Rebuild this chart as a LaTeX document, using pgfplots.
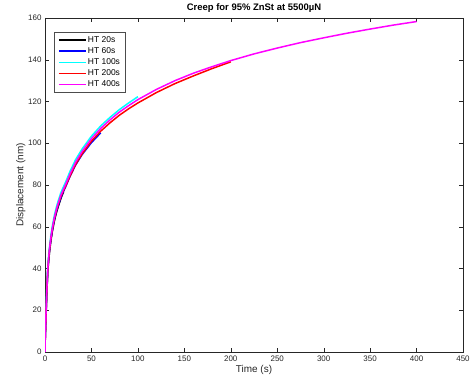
\documentclass[border=0pt]{standalone}
\usepackage{pgfplots}
\pgfplotsset{compat=1.18}
\usepackage{fontspec}
\setmainfont{Liberation Sans}
\definecolor{mblue}{rgb}{0,0,1}
\definecolor{mcyan}{rgb}{0,1,1}
\definecolor{mred}{rgb}{1,0,0}
\definecolor{mmag}{rgb}{1,0,1}
\begin{document}
\begin{tikzpicture}
\begin{axis}[
  scale only axis, width=418bp, height=334bp,
  xmin=0, xmax=450, ymin=0, ymax=160,
  xtick={0,50,...,450}, ytick={0,20,...,160},
  tick align=inside, tick pos=both,
  major tick length=4bp,
  axis line style={draw=black!85},
  tick style={black!85},
  ticklabel style={font=\fontsize{8}{9}\selectfont, text=black!85},
  /pgf/number format/assume math mode=true,
  xlabel={Time (s)}, ylabel={Displacement (nm)},
  label style={font=\fontsize{10}{12}\selectfont, text=black!85},
  xlabel style={yshift=3bp},
  ylabel style={yshift=-4bp},
  title={\bfseries Creep for 95\% ZnSt at 5500µN},
  title style={font=\fontsize{9.5}{11}\selectfont, yshift=-4bp},
  legend style={at={(rel axis cs:0.021,0.957)}, anchor=north west,
    font=\fontsize{8.5}{9}\selectfont, draw=black!70, row sep=0bp,
    inner xsep=4bp, inner ysep=2bp,
    nodes={inner sep=1.4bp, text height=6.3bp, text depth=2bp}},
  legend cell align=left,
  legend image code/.code={\draw[#1, line width=1.6pt] (0bp,0bp) -- (27bp,0bp);},
  every axis plot/.append style={line width=1.5pt, line join=round},
]
\addplot[black] coordinates {(0,0)(0.3,6.5)(0.7,11.5)(1.2,18.5)(2,28.5)(3,38.5)(4,44)(5,48.5)(6.5,53.8)(8,58)(10,62.6)(12,66.3)(14,69.3)(17,73.4)(20,76.8)};
\addlegendentry{HT 20s}
\addplot[mblue] coordinates {(0,0)(0.3,7.5)(0.7,12.5)(1.2,19.5)(2,29.3)(3,39.2)(4,44.7)(5,49.2)(6.5,54.4)(8,58.6)(10,63.1)(12,66.8)(14,69.8)(17,73.8)(19.5,76.5)(22,78.9)(27,84.2)(33,89.6)(40,94.6)(50,100.3)(60,105)};
\addlegendentry{HT 60s}
\addplot[mcyan] coordinates {(0,0)(0.3,9)(0.7,14.5)(1.2,21.5)(2,31.5)(3,41.2)(4,46.8)(5,51.2)(6.5,56.5)(8,60.7)(10,65.3)(12,69)(14,72.1)(17,76.2)(19.5,78.8)(22,81.2)(27,86.6)(33,92.2)(40,97.3)(50,103.4)(60,108.3)(70,112.4)(80,116.1)(90,119.3)(100,122.3)};
\addlegendentry{HT 100s}
\addplot[mred] coordinates {(0,0)(0.3,7.5)(0.7,12.5)(1.2,19.5)(2,29.5)(3,39.5)(4,45)(5,49.5)(6.5,54.8)(8,59)(10,63.6)(12,67.3)(14,70.4)(17,74.4)(19.5,77)(22,79.3)(27,84.4)(33,89.9)(40,95)(50,101)(60,105.8)(70,109.8)(80,113.4)(90,116.5)(100,119.3)(120,124.3)(140,128.6)(160,132.3)(180,135.8)(200,139)};
\addlegendentry{HT 200s}
\addplot[mmag] coordinates {(0,0)(0.3,8)(0.7,13)(1.2,20)(2,30)(3,40)(4,45.5)(5,50)(6.5,55.3)(8,59.5)(10,64.1)(12,67.8)(14,70.9)(17,75)(19.5,77.6)(22,80)(27,85.3)(33,90.9)(40,96.1)(50,102.2)(60,107.1)(70,111.2)(80,114.9)(90,118)(100,120.9)(120,125.8)(140,130)(160,133.6)(180,136.7)(200,139.6)(225,142.8)(250,145.6)(275,148.2)(300,150.5)(325,152.7)(350,154.7)(375,156.6)(400,158.3)};
\addlegendentry{HT 400s}
\end{axis}
\path (current axis.south west) ++(-45bp,-36bp) coordinate (bbA);
\path (current axis.north east) ++(10bp,18bp) coordinate (bbB);
\useasboundingbox (bbA) rectangle (bbB);
\end{tikzpicture}
\end{document}
